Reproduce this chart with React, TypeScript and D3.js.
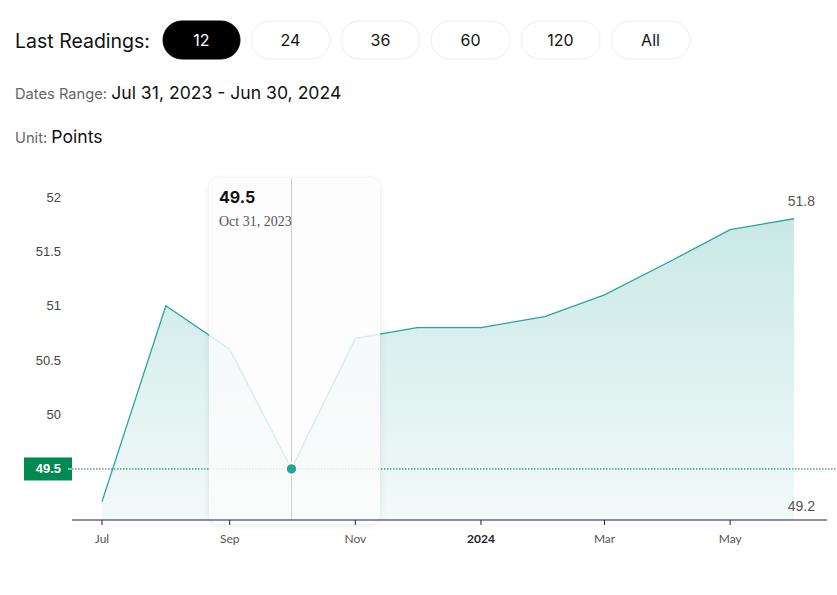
import React from "react";
import * as d3 from "d3";

const dates = [
  "2023-07-31", "2023-08-31", "2023-09-30", "2023-10-31", "2023-11-30", "2023-12-31",
  "2024-01-31", "2024-02-29", "2024-03-31", "2024-04-30", "2024-05-31", "2024-06-30",
];
const values = [49.2, 51.0, 50.6, 49.5, 50.7, 50.8, 50.8, 50.9, 51.1, 51.4, 51.7, 51.8];
const yTicks = [50, 50.5, 51, 51.5, 52];
const buttons = ["12", "24", "36", "60", "120", "All"];
const activeIndex = 3;

const W = 837;
const H = 595;
const parse = d3.timeParse("%Y-%m-%d");
const fmtTip = d3.timeFormat("%b %d, %Y");

export default function App() {
  const data = dates.map((d, i) => ({ date: parse(d) as Date, value: values[i] }));
  const monthOf = (d: Date) => d3.timeMonth.floor(d);
  const x = d3
    .scaleTime()
    .domain([monthOf(data[0].date), monthOf(data[data.length - 1].date)])
    .range([102, 794]);
  const y = d3.scaleLinear().domain([49.031, 52]).range([520, 197]);
  const baseY = 520;

  const line = d3
    .line<{ date: Date; value: number }>()
    .x((d) => x(monthOf(d.date)))
    .y((d) => y(d.value));
  const area = d3
    .area<{ date: Date; value: number }>()
    .x((d) => x(monthOf(d.date)))
    .y0(baseY)
    .y1((d) => y(d.value));

  const xTicks = x.ticks(d3.timeMonth.every(2) as any);
  const active = data[activeIndex];
  const ax = x(monthOf(active.date));
  const ay = y(active.value);
  const maxV = d3.max(values) as number;
  const minV = d3.min(values) as number;

  const headerFont = "Inter, 'Noto Sans', sans-serif";
  const buttonX = [163, 251, 341, 431, 521, 611];

  return (
    <svg
      width={W}
      height={H}
      style={{ position: "absolute", left: 0, top: 0, background: "#fff" }}
    >
      <defs>
        <linearGradient id="areaGrad2" x1="0" x2="0" y1={y(maxV)} y2={baseY} gradientUnits="userSpaceOnUse">
          <stop offset="0%" stopColor="#26a69a" stopOpacity={0.25} />
          <stop offset="100%" stopColor="#26a69a" stopOpacity={0.06} />
        </linearGradient>
        <filter id="shadow" x="-20%" y="-10%" width="140%" height="120%">
          <feDropShadow dx="0" dy="1" stdDeviation="3" floodColor="#000" floodOpacity="0.12" />
        </filter>
      </defs>

      {/* Header */}
      <text x={15} y={47.5} fontFamily={headerFont} fontSize={19.5} fill="#111">
        Last Readings:
      </text>
      {buttons.map((b, i) => {
        const bx = buttonX[i];
        const bw = 79;
        const isActive = i === 0;
        return (
          <g key={b}>
            <rect
              x={bx}
              y={21}
              width={isActive ? 77 : bw}
              height={38}
              rx={19}
              fill={isActive ? "#000" : "#fff"}
              stroke={isActive ? "#000" : "#ececec"}
            />
            <text
              x={bx + (isActive ? 77 : bw) / 2}
              y={46}
              textAnchor="middle"
              fontFamily={headerFont}
              fontSize={16}
              fill={isActive ? "#fff" : "#111"}
            >
              {b}
            </text>
          </g>
        );
      })}
      <text x={15} y={99} fontFamily={headerFont}>
        <tspan fontSize={14.7} fill="#666">Dates Range: </tspan>
        <tspan fontSize={17.6} fill="#111">Jul 31, 2023 - Jun 30, 2024</tspan>
      </text>
      <text x={15} y={143} fontFamily={headerFont}>
        <tspan fontSize={14.7} fill="#666">Unit: </tspan>
        <tspan fontSize={17.6} fill="#111">Points</tspan>
      </text>

      {/* Y tick labels */}
      {yTicks.map((t) => (
        <text
          key={t}
          x={61}
          y={y(t) + 4.5}
          textAnchor="end"
          fontFamily="'Liberation Sans', Arial, sans-serif"
          fontSize={13}
          fill="#444"
        >
          {t}
        </text>
      ))}

      {/* Area + line */}
      <path d={area(data) as string} fill="url(#areaGrad2)" />
      <path d={line(data) as string} fill="none" stroke="#26a69a" strokeWidth={1.3} />

      {/* Min / Max labels */}
      <text x={815} y={y(maxV) - 13} textAnchor="end" fontFamily="'Liberation Sans', Arial, sans-serif" fontSize={14} fill="#555">
        {maxV}
      </text>
      <text x={815} y={511} textAnchor="end" fontFamily="'Liberation Sans', Arial, sans-serif" fontSize={14} fill="#555">
        {minV}
      </text>

      {/* Crosshair horizontal */}
      <line x1={72} x2={W} y1={ay} y2={ay} stroke="#00703c" strokeWidth={1} strokeDasharray="1.5 1.5" />
      <rect x={24} y={ay - 11.5} width={48} height={23} fill="#008a52" />
      <line x1={68} x2={72} y1={ay} y2={ay} stroke="#fff" strokeWidth={1} />
      <text x={61} y={ay + 4.5} textAnchor="end" fontFamily="'Liberation Sans', Arial, sans-serif" fontSize={13} fontWeight={600} fill="#fff">
        {active.value}
      </text>

      {/* Tooltip card */}
      <rect x={209} y={178} width={171} height={346} rx={10} fill="#fff" fillOpacity={0.8} filter="url(#shadow)" />
      <line x1={ax} x2={ax} y1={178} y2={baseY} stroke="#cfcfcf" strokeWidth={1} />
      <text x={219} y={203} fontFamily={headerFont} fontSize={16} fontWeight={700} fill="#111">
        {active.value}
      </text>
      <text x={219} y={226} fontFamily="'Liberation Serif', 'DejaVu Serif', serif" fontSize={14} fill="#555">
        {fmtTip(active.date)}
      </text>

      {/* Active point */}
      <circle cx={ax} cy={ay} r={5.5} fill="#26a69a" stroke="#fff" strokeWidth={1.5} />

      {/* X axis */}
      <line x1={72} x2={827} y1={baseY} y2={baseY} stroke="#1f2040" strokeWidth={1.2} />
      {xTicks.map((t) => {
        const isYear = t.getMonth() === 0;
        return (
          <g key={t.toISOString()} transform={`translate(${x(t)},${baseY})`}>
            <line y1={0} y2={5} stroke="#1f2040" />
            <text
              y={23}
              textAnchor="middle"
              fontFamily="Lato, 'Noto Sans', sans-serif"
              fontSize={12}
              fontWeight={isYear ? 700 : 400}
              fill={isYear ? "#222" : "#555"}
            >
              {isYear ? d3.timeFormat("%Y")(t) : d3.timeFormat("%b")(t)}
            </text>
          </g>
        );
      })}
    </svg>
  );
}
